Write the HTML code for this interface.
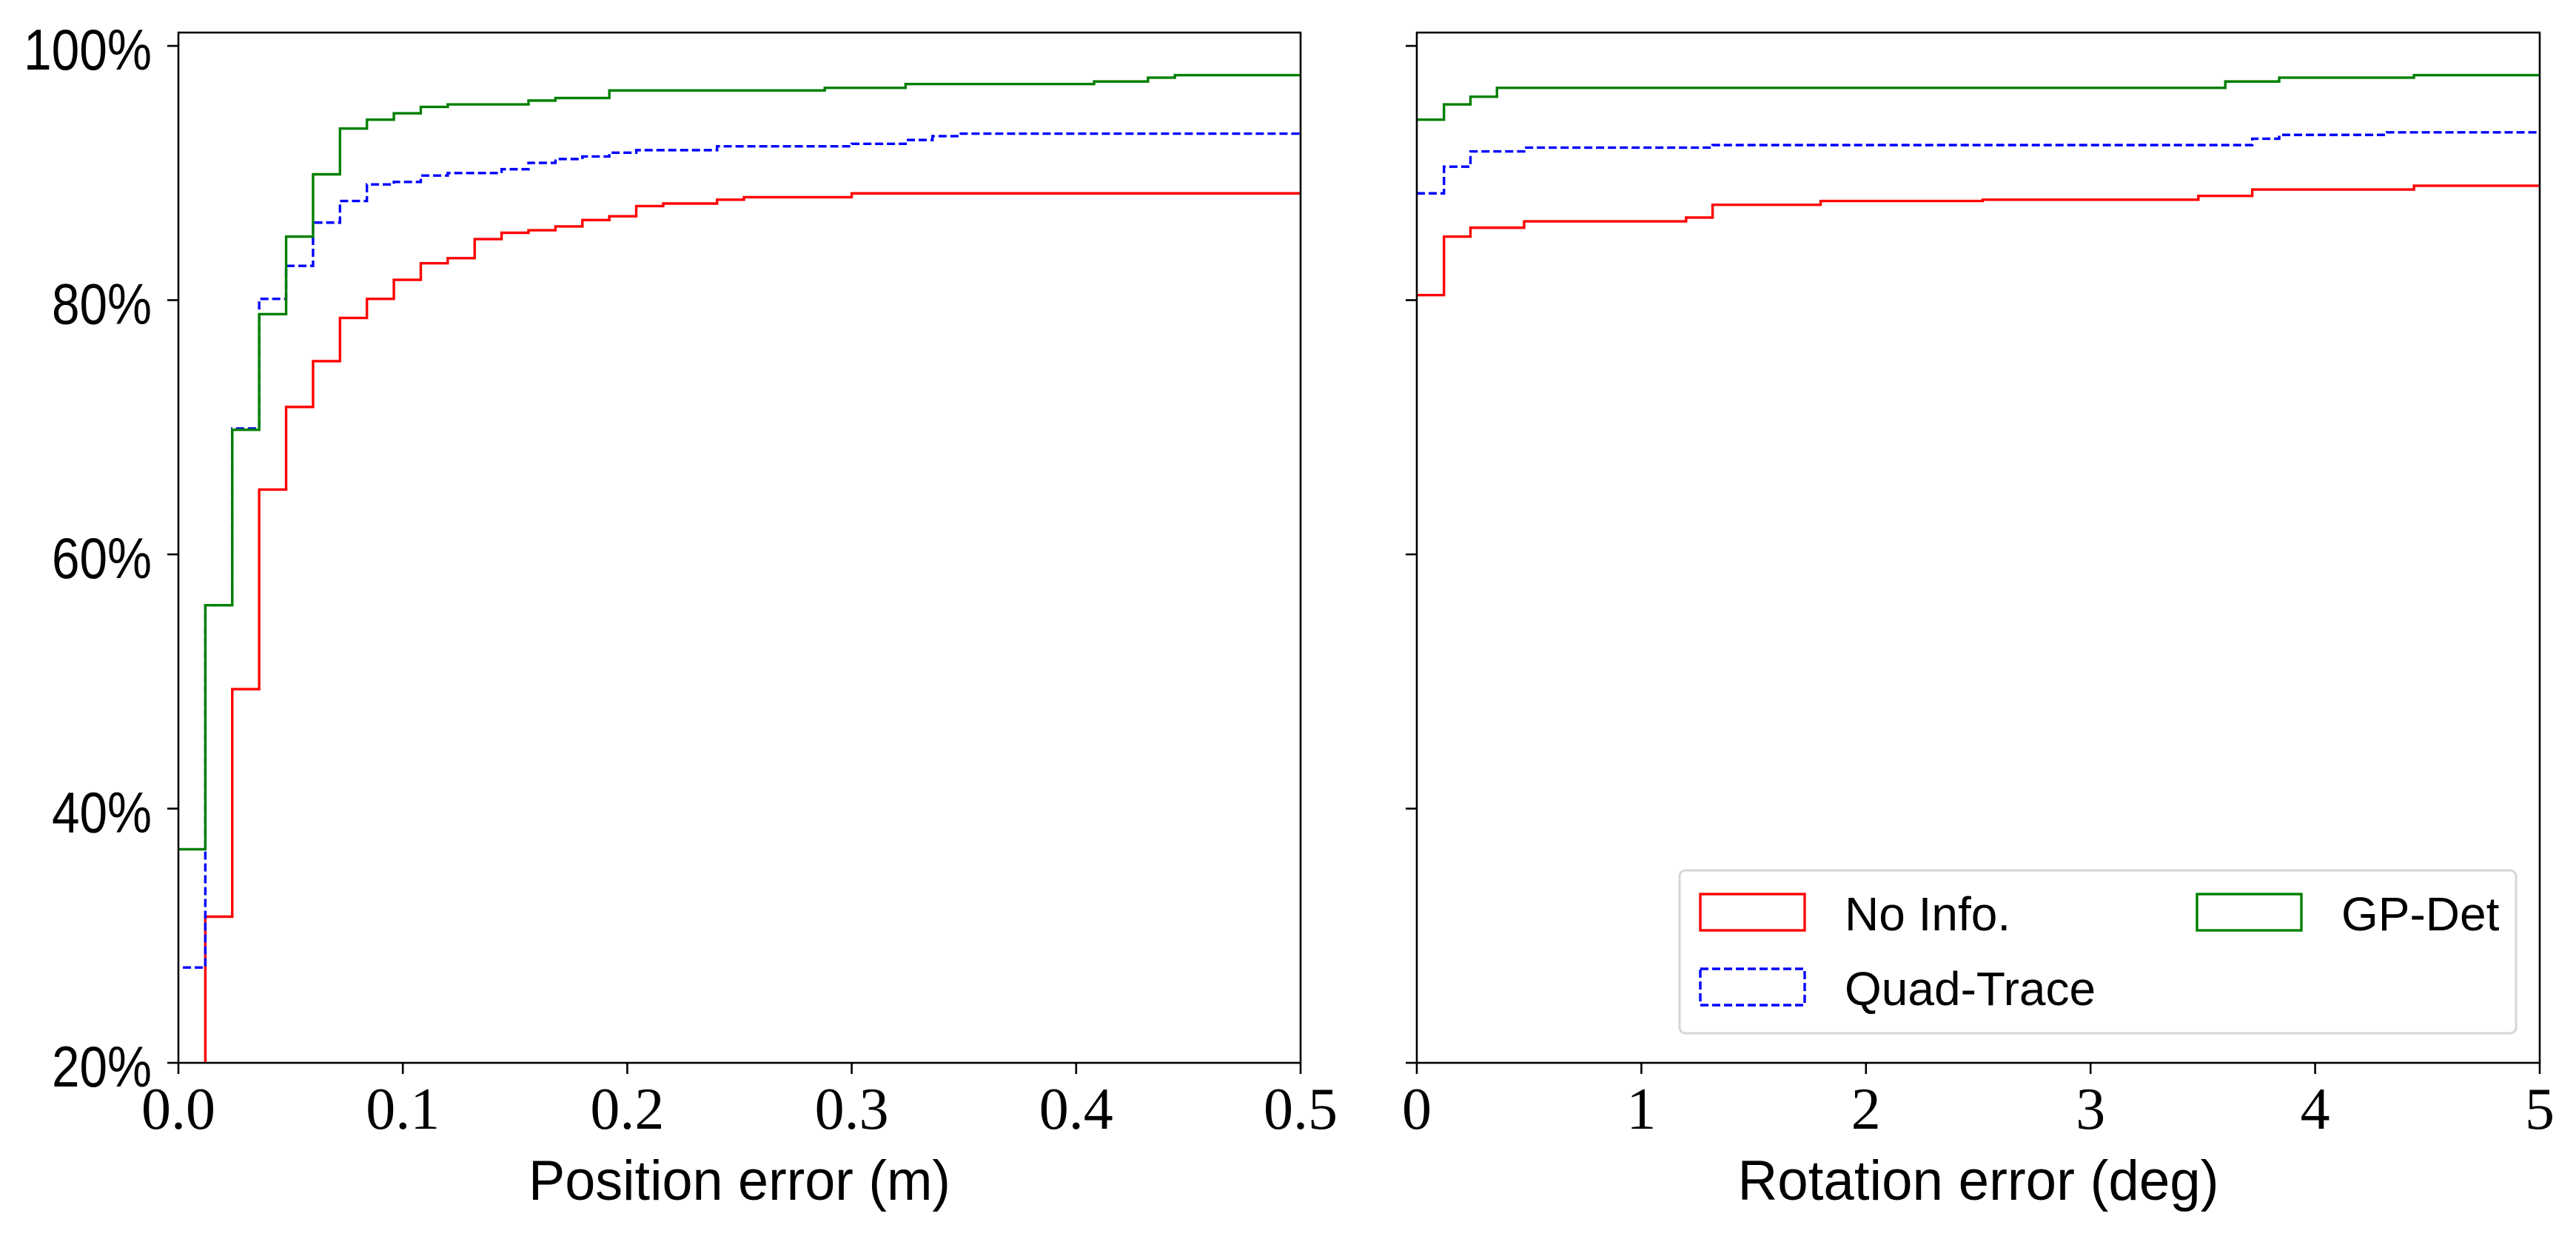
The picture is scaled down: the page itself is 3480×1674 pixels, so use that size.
<!DOCTYPE html>
<html><head><meta charset="utf-8"><style>
html,body{margin:0;padding:0;background:#fff}
svg{display:block}
.sans{font-family:"Liberation Sans",sans-serif}
.serif{font-family:"Liberation Serif",serif}
</style></head><body>
<svg id="chart" width="3480" height="1674" xmlns="http://www.w3.org/2000/svg">
<g id="left"></g>
<g id="right"></g>
<g id="legend"></g>
</svg>
<script>
// Position error panel data (x in m, y in %)
const posRedX = [0.012,0.024,0.036,0.048,0.060,0.072,0.084,0.096,0.108,0.120,0.132,0.144,0.156,0.168,0.180,0.192,0.204,0.216,0.240,0.252,0.300];
const posRedY = [31.5,49.4,65.1,71.6,75.2,78.6,80.1,81.6,82.9,83.3,84.8,85.3,85.5,85.8,86.3,86.6,87.4,87.6,87.9,88.1,88.4];
const posBlueX = [0.002,0.012,0.024,0.036,0.048,0.060,0.072,0.084,0.096,0.108,0.120,0.144,0.156,0.168,0.180,0.192,0.204,0.240,0.300,0.324,0.336,0.348];
const posBlueY = [27.5,56.0,69.9,80.1,82.7,86.1,87.8,89.1,89.3,89.8,90.0,90.3,90.8,91.1,91.3,91.6,91.8,92.1,92.3,92.6,92.9,93.1];
const posGreenX = [0,0.012,0.024,0.036,0.048,0.060,0.072,0.084,0.096,0.108,0.120,0.156,0.168,0.192,0.288,0.324,0.408,0.432,0.444];
const posGreenY = [36.8,56.0,69.8,78.9,85.0,89.9,93.5,94.2,94.7,95.2,95.4,95.7,95.9,96.5,96.7,97.0,97.2,97.5,97.7];
// Rotation error panel data (x in deg, y in %)
const rotRedX = [0,0.121,0.239,0.478,1.199,1.317,1.798,2.52,3.48,3.72,4.44];
const rotRedY = [80.4,85.0,85.7,86.2,86.5,87.5,87.8,87.9,88.2,88.7,89.0];
const rotBlueX = [0,0.121,0.239,0.478,1.317,3.72,3.84,4.32];
const rotBlueY = [88.4,90.5,91.7,92.0,92.2,92.7,93.0,93.2];
const rotGreenX = [0,0.121,0.239,0.357,3.60,3.84,4.44];
const rotGreenY = [94.2,95.4,96.0,96.7,97.2,97.5,97.7];
// ticks
const yTicks = [20,40,60,80,100];
const yTickLabels = ["20%","40%","60%","80%","100%"];
const posXTicks = [0,0.1,0.2,0.3,0.4,0.5];
const posXTickLabels = ["0.0","0.1","0.2","0.3","0.4","0.5"];
const rotXTicks = [0,1,2,3,4,5];
const rotXTickLabels = ["0","1","2","3","4","5"];

const NS="http://www.w3.org/2000/svg";
const TOP=44, BOT=1436, YMIN=20, YMAX=101.05;
function mk(tag,attrs,parent){const e=document.createElementNS(NS,tag);for(const k in attrs)e.setAttribute(k,attrs[k]);parent.appendChild(e);return e;}
function yS(v){return BOT-(v-YMIN)/(YMAX-YMIN)*(BOT-TOP);}

function panel(g,x0,x1,xmax,series,xt,xtl,showY,xlabel,xlabelW){
  const xS=v=>x0+v/xmax*(x1-x0);
  const cid='clip'+x0;
  const cp=mk('clipPath',{id:cid},g); mk('rect',{x:x0,y:TOP,width:x1-x0,height:BOT-TOP},cp);
  series.forEach(s=>{
    let d='';
    for(let i=0;i<s.x.length;i++){
      const px=xS(s.x[i]), py=yS(s.y[i]);
      if(i===0){ d+= (s.fromBottom? 'M'+px+' '+(BOT+5)+' L'+px+' '+py : 'M'+px+' '+py); }
      else { d+=' L'+px+' '+yS(s.y[i-1])+' L'+px+' '+py; }
    }
    d+=' L'+x1+' '+yS(s.y[s.y.length-1]);
    const p=mk('path',{d:d,fill:'none',stroke:s.c,'stroke-width':3.4,'clip-path':'url(#'+cid+')'},g);
    if(s.dash)p.setAttribute('stroke-dasharray','11 5');
    
    
  });
  const fr=mk('rect',{x:x0,y:TOP,width:x1-x0,height:BOT-TOP,fill:'none',stroke:'#000','stroke-width':2.6},g);
  
  
  yTicks.forEach((v,i)=>{
    const y=yS(v);
    const t=mk('line',{x1:x0-15,x2:x0,y1:y,y2:y,stroke:'#000','stroke-width':2.6},g);
    
    
    if(showY){
      const lbl=yTickLabels[i];
      const w=lbl.length===4?173:135;
      const tx=mk('text',{x:205,y:y+32,'text-anchor':'end','font-size':78,class:'sans',textLength:w,lengthAdjust:'spacingAndGlyphs'},g);
      tx.textContent=lbl;
      
      
    }
  });
  xt.forEach((v,i)=>{
    const x=xS(v);
    const t=mk('line',{x1:x,x2:x,y1:BOT,y2:BOT+15,stroke:'#000','stroke-width':2.6},g);
    
    
    const tx=mk('text',{x:x,y:1525,'text-anchor':'middle','font-size':80,class:'serif'},g);
    tx.textContent=xtl[i];
    
    
  });
  const xl=mk('text',{x:(x0+x1)/2,y:1621,'text-anchor':'middle','font-size':76,class:'sans',textLength:xlabelW,lengthAdjust:'spacingAndGlyphs'},g);
  xl.textContent=xlabel;
  
  
}
panel(document.getElementById('left'),241,1757,0.5,[
  {x:posRedX,y:posRedY,c:'#ff0000',name:'no-info-line',fromBottom:true},
  {x:posBlueX,y:posBlueY,c:'#0000ff',dash:true,name:'quad-trace-line'},
  {x:posGreenX,y:posGreenY,c:'#008000',name:'gp-det-line'}],posXTicks,posXTickLabels,true,'Position error (m)',570);
panel(document.getElementById('right'),1914,3431,5,[
  {x:rotRedX,y:rotRedY,c:'#ff0000',name:'no-info-line'},
  {x:rotBlueX,y:rotBlueY,c:'#0000ff',dash:true,name:'quad-trace-line'},
  {x:rotGreenX,y:rotGreenY,c:'#008000',name:'gp-det-line'}],rotXTicks,rotXTickLabels,false,'Rotation error (deg)',650);

// legend
const lg=document.getElementById('legend');
const box=mk('rect',{x:2269,y:1176,width:1130,height:220,rx:8,fill:'#fff',stroke:'#d6d6d6','stroke-width':3},lg);


const entries=[
  {x:2297,y:1208,c:'#ff0000',t:'No Info.',dash:false,n:'legend-entry-no-info'},
  {x:2968,y:1208,c:'#008000',t:'GP-Det',dash:false,n:'legend-entry-gp-det'},
  {x:2297,y:1309,c:'#0000ff',t:'Quad-Trace',dash:true,n:'legend-entry-quad-trace'}];
entries.forEach(e=>{
  const g=mk('g',{},lg);
  
  
  const r=mk('rect',{x:e.x,y:e.y,width:141,height:49,fill:'none',stroke:e.c,'stroke-width':3.4},g);
  if(e.dash)r.setAttribute('stroke-dasharray','11 5');
  const t=mk('text',{x:e.x+195,y:e.y+49,'font-size':64,class:'sans'},g);
  t.textContent=e.t;
});
</script>
</body></html>
